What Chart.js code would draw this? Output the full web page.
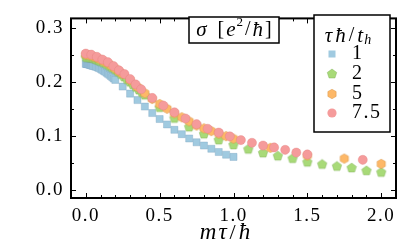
<!DOCTYPE html>
<html>
<head>
<meta charset="utf-8">
<script src="https://cdn.jsdelivr.net/npm/chart.js@4.4.0/dist/chart.umd.min.js"></script>
<style>
  html, body { margin: 0; padding: 0; background: #fff; }
  #wrap { width: 408px; height: 252px; }
</style>
</head>
<body>
<div id="wrap"><canvas id="myChart"></canvas></div>
<script>
// sigma [e^2/hbar] vs m tau / hbar, one series per tau hbar / t_h
const seriesNames = ['1', '2', '5', '7.5'];

const blueX = [0, 0.005, 0.01, 0.015, 0.02, 0.025, 0.03, 0.035, 0.04, 0.045, 0.05,
  0.06, 0.07, 0.08, 0.09, 0.10, 0.11, 0.12, 0.13, 0.14, 0.15, 0.16, 0.17, 0.18, 0.19, 0.20,
  0.25, 0.30, 0.35, 0.40, 0.45, 0.50, 0.55, 0.60, 0.65, 0.70, 0.75, 0.80, 0.85, 0.90, 0.95, 1.00];
const blueY = [0.233, 0.2329, 0.2327, 0.2324, 0.232, 0.2316, 0.2312, 0.2308, 0.2303, 0.2298, 0.2293,
  0.2285, 0.2276, 0.2265, 0.2252, 0.2238, 0.2222, 0.2205, 0.2187, 0.2168, 0.2148, 0.2127, 0.2105, 0.2082, 0.2058, 0.2034,
  0.191, 0.178, 0.166, 0.154, 0.142, 0.131, 0.121, 0.111, 0.103, 0.095, 0.088, 0.082, 0.076, 0.070, 0.065, 0.061];

const greenX = [0, 0.01, 0.02, 0.03, 0.04, 0.05, 0.06, 0.07, 0.08, 0.09, 0.10,
  0.12, 0.14, 0.16, 0.18, 0.20, 0.22, 0.24, 0.26, 0.28, 0.30, 0.32, 0.34, 0.36, 0.38, 0.40,
  0.5, 0.6, 0.7, 0.8, 0.9, 1.0, 1.1, 1.2, 1.3, 1.4, 1.5, 1.6, 1.7, 1.8, 1.9, 2.0];
const greenY = [0.245, 0.2449, 0.2447, 0.2443, 0.2437, 0.243, 0.2421, 0.241, 0.2398, 0.2385, 0.2375,
  0.2348, 0.2318, 0.2285, 0.2252, 0.2218, 0.2176, 0.2131, 0.2085, 0.2038, 0.199, 0.1942, 0.1894, 0.1846, 0.1798, 0.175,
  0.152, 0.132, 0.116, 0.103, 0.092, 0.083, 0.075, 0.068, 0.0624, 0.0577, 0.051, 0.047, 0.0433, 0.0404, 0.0352, 0.0322];

const orangeX = [0, 0.025, 0.05, 0.075, 0.1, 0.125, 0.15, 0.175, 0.2, 0.225, 0.25,
  0.3, 0.35, 0.4, 0.45, 0.5, 0.55, 0.6, 0.65, 0.7, 0.75, 0.8, 0.85, 0.9, 0.95, 1.0,
  1.25, 1.5, 1.75, 2.0];
const orangeY = [0.250, 0.2487, 0.2467, 0.244, 0.2407, 0.2373, 0.234, 0.2293, 0.2243, 0.219, 0.2143,
  0.203, 0.1903, 0.1787, 0.168, 0.1587, 0.150, 0.1415, 0.1342, 0.1267, 0.119, 0.1137, 0.1087, 0.104, 0.0993, 0.0947,
  0.0777, 0.0635, 0.0578, 0.048];

const pinkX = [0, 0.0375, 0.075, 0.1125, 0.15, 0.1875, 0.225, 0.2625, 0.3, 0.3375, 0.375,
  0.45, 0.525, 0.6, 0.675, 0.75, 0.825, 0.9, 0.975, 1.05, 1.125, 1.2, 1.275, 1.35, 1.425, 1.5,
  1.875];
const pinkY = [0.252, 0.250, 0.246, 0.241, 0.236, 0.229, 0.221, 0.214, 0.205, 0.195, 0.186,
  0.170, 0.156, 0.1435, 0.132, 0.1215, 0.113, 0.106, 0.099, 0.092, 0.087, 0.082, 0.0785, 0.074, 0.069, 0.0655,
  0.0555];

const xTicks = [0, 0.5, 1.0, 1.5, 2.0];
const yTicks = [0, 0.1, 0.2, 0.3];

const serif = '"Liberation Serif", "DejaVu Serif", serif';
const blue = 'rgb(160,202,224)', green = 'rgb(168,218,120)', orange = 'rgb(253,184,104)', pink = 'rgb(245,155,155)';

// pentagon / hexagon markers as small canvases
function polyMarker(sides, r, fill, edge) {
  const s = Math.ceil(2 * r + 2);
  const c = document.createElement('canvas');
  c.width = s; c.height = s;
  const g = c.getContext('2d');
  g.beginPath();
  for (let i = 0; i < sides; i++) {
    const a = -Math.PI / 2 + i * 2 * Math.PI / sides;
    const px = s / 2 + r * Math.cos(a), py = s / 2 + r * Math.sin(a);
    if (i === 0) g.moveTo(px, py); else g.lineTo(px, py);
  }
  g.closePath();
  g.fillStyle = fill; g.fill();
  g.strokeStyle = edge; g.lineWidth = 0.5; g.stroke();
  return c;
}
const pentagon = polyMarker(5, 5, green, 'rgba(120,170,80,0.8)');
const hexagon = polyMarker(6, 4.8, orange, 'rgba(210,140,60,0.8)');

function pts(xs, ys) { return xs.map((x, i) => ({ x: x, y: ys[i] })); }

// mixed italic / upright text, centred on (cx, cy); sp = extra gap after each run
function textRuns(ctx, runs, cx, cy) {
  let w = 0;
  runs.forEach(r => { ctx.font = r.f; w += ctx.measureText(r.t).width + (r.sp || 0); });
  let x = cx - w / 2;
  ctx.textBaseline = 'middle';
  ctx.textAlign = 'left';
  runs.forEach(r => {
    ctx.font = r.f;
    ctx.fillText(r.t, x, cy + (r.dy || 0));
    x += ctx.measureText(r.t).width + (r.sp || 0);
  });
}

const frame = {
  id: 'frame',
  beforeDraw(chart) {
    chart.ctx.letterSpacing = '1.5px';
  },
  afterDraw(chart) {
    const ctx = chart.ctx, a = chart.chartArea;
    const xs = chart.scales.x, ys = chart.scales.y;
    ctx.save();
    ctx.letterSpacing = '0px';
    ctx.strokeStyle = '#000';
    ctx.lineWidth = 1;
    ctx.beginPath();
    const xMinor = [];
    for (let i = 0; i <= 20; i++) xMinor.push(i / 10);
    xMinor.forEach(v => {
      const p = Math.round(xs.getPixelForValue(v)) + 0.5;
      const len = xTicks.some(t => Math.abs(t - v) < 1e-6) ? 5 : 3;
      ctx.moveTo(p, a.bottom); ctx.lineTo(p, a.bottom - len);
      ctx.moveTo(p, a.top); ctx.lineTo(p, a.top + len);
    });
    [0, 0.05, 0.1, 0.15, 0.2, 0.25, 0.3].forEach(v => {
      const p = Math.round(ys.getPixelForValue(v)) + 0.5;
      const len = yTicks.some(t => Math.abs(t - v) < 1e-6) ? 5 : 3;
      ctx.moveTo(a.left, p); ctx.lineTo(a.left + len, p);
      ctx.moveTo(a.right, p); ctx.lineTo(a.right - len, p);
    });
    ctx.stroke();
    ctx.lineWidth = 2;
    ctx.strokeRect(a.left, a.top, a.right - a.left, a.bottom - a.top);

    const it = 'italic 21px ' + serif, rm = '20px ' + serif, sm = '13px ' + serif, smi = 'italic 14px ' + serif;

    // quantity box
    ctx.fillStyle = '#fff';
    ctx.fillRect(189, 17, 90, 26);
    ctx.lineWidth = 1.5;
    ctx.strokeRect(189, 17, 90, 26);
    ctx.fillStyle = '#000';
    textRuns(ctx, [{ t: 'σ', f: it, sp: 11 }, { t: '[', f: rm, sp: 2 }, { t: 'e', f: it, sp: 1 }, { t: '2', f: sm, dy: -7, sp: 2 },
      { t: '/', f: rm, sp: 2 }, { t: 'ħ', f: it, sp: 2 }, { t: ']', f: rm }], 234, 30);

    // legend
    ctx.fillStyle = '#fff';
    ctx.fillRect(314, 15, 76, 117);
    ctx.strokeRect(314, 15, 76, 117);
    ctx.fillStyle = '#000';
    textRuns(ctx, [{ t: 'τ', f: it, sp: 3 }, { t: 'ħ', f: it, sp: 3 }, { t: '/', f: rm, sp: 3 }, { t: 't', f: it, sp: 1 },
      { t: 'h', f: smi, dy: 4 }], 348, 36);
    const rows = [54, 74, 94, 113];
    rows.forEach((yy, i) => {
      const mx = 332;
      if (i === 0) { ctx.fillStyle = blue; ctx.fillRect(mx - 3.5, yy - 3.5, 7, 7); }
      if (i === 1) ctx.drawImage(pentagon, mx - pentagon.width / 2, yy - pentagon.height / 2);
      if (i === 2) ctx.drawImage(hexagon, mx - hexagon.width / 2, yy - hexagon.height / 2);
      if (i === 3) { ctx.fillStyle = pink; ctx.beginPath(); ctx.arc(mx, yy, 4.6, 0, 2 * Math.PI); ctx.fill(); }
      ctx.fillStyle = '#000';
      ctx.font = rm;
      ctx.letterSpacing = '1.5px';
      ctx.textAlign = 'left';
      ctx.textBaseline = 'middle';
      ctx.fillText(seriesNames[i], 352, yy);
      ctx.letterSpacing = '0px';
    });

    // x axis title
    const xl = 'italic 23px ' + serif;
    textRuns(ctx, [{ t: 'm', f: xl, sp: 2 }, { t: 'τ', f: xl, sp: 3 }, { t: '/', f: '22px ' + serif, sp: 3 }, { t: 'ħ', f: xl }], 225, 233);
    ctx.restore();
  }
};

const ctx = document.getElementById('myChart').getContext('2d');
const myChart = new Chart(ctx, {
  type: 'scatter',
  data: {
    datasets: [
      { label: seriesNames[3], data: pts(pinkX, pinkY), pointStyle: 'circle', pointRadius: 4.6,
        backgroundColor: pink, borderColor: 'rgba(220,120,120,0.6)', borderWidth: 0.5, order: 0 },
      { label: seriesNames[2], data: pts(orangeX, orangeY), pointStyle: hexagon, pointRadius: 4.5,
        backgroundColor: orange, order: 1 },
      { label: seriesNames[1], data: pts(greenX, greenY), pointStyle: pentagon, pointRadius: 4.5,
        backgroundColor: green, order: 2 },
      { label: seriesNames[0], data: pts(blueX, blueY), pointStyle: 'rect', pointRadius: 5,
        backgroundColor: blue, borderColor: 'rgba(120,160,190,0.7)', borderWidth: 0.5, order: 3 }
    ]
  },
  options: {
    responsive: true,
    maintainAspectRatio: false,
    devicePixelRatio: 1,
    animation: false,
    layout: { padding: { left: 0, right: 12, top: 6, bottom: 0 } },
    plugins: { legend: { display: false }, tooltip: { enabled: false } },
    scales: {
      x: {
        type: 'linear', min: -0.1, max: 2.1,
        grid: { display: false, drawTicks: false },
        border: { display: false },
        afterBuildTicks: axis => { axis.ticks = xTicks.map(v => ({ value: v })); },
        afterFit: axis => { axis.height = 54; },
        ticks: { color: '#000', padding: 7, maxRotation: 0, font: { family: serif, size: 19 },
          callback: v => v.toFixed(1) }
      },
      y: {
        type: 'linear', min: -0.015, max: 0.317,
        grid: { display: false, drawTicks: false },
        border: { display: false },
        afterBuildTicks: axis => { axis.ticks = yTicks.map(v => ({ value: v })); },
        afterFit: axis => { axis.width = 71; },
        ticks: { color: '#000', padding: 7, font: { family: serif, size: 19 },
          callback: v => v.toFixed(1) }
      }
    }
  },
  plugins: [frame]
});
</script>
</body>
</html>
